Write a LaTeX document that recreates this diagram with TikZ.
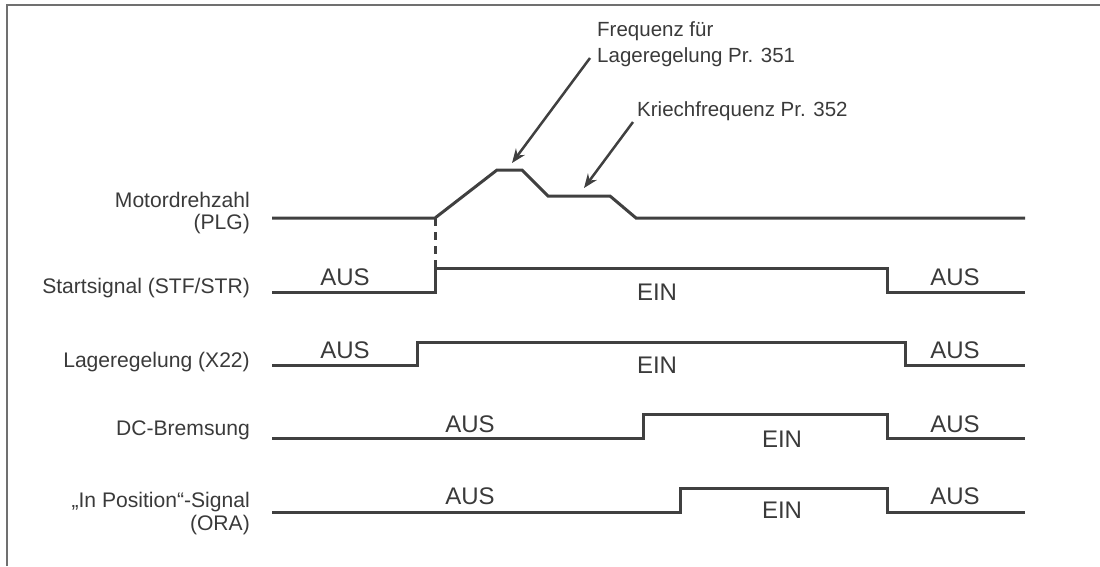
\documentclass[tikz,border=0pt]{standalone}
\usepackage{fontspec}
\setmainfont{Liberation Sans}
\usetikzlibrary{arrows.meta}
\definecolor{sig}{HTML}{404040}
\definecolor{txt}{HTML}{3A3A3A}
\definecolor{frame}{HTML}{707070}
\tikzset{
  sigline/.style={draw=sig,line width=3pt,line join=miter},
  lbl/.style={anchor=base east,text=txt,font=\fontsize{21.1}{23}\selectfont,inner sep=0pt,align=right},
  state/.style={anchor=base,text=txt,font=\fontsize{24}{26}\selectfont,inner sep=0pt},
  note/.style={anchor=base west,text=txt,font=\fontsize{20.5}{26}\selectfont,inner sep=0pt},
  pointer/.style={draw=sig,line width=2.5pt,-{Stealth[length=14pt,width=11pt]}}
}
\begin{document}
\begin{tikzpicture}[x=1pt,y=-1pt]
\useasboundingbox (0,0) rectangle (1100,566);
% frame
\draw[frame,line width=2pt] (7,566) -- (7,5) -- (1100,5);

% labels
\node[lbl] (lm1) at (250,207) {Motordrehzahl};
\node[lbl] (lm2) at (250,229) {(PLG)};
\node[lbl] (ls) at (250,293) {Startsignal (STF/STR)};
\node[lbl] (ll) at (250,367) {Lageregelung (X22)};
\node[lbl] (ld) at (250,435) {DC-Bremsung};
\node[lbl] (lo1) at (250,507) {„In Position“-Signal};
\node[lbl] (lo2) at (250,530) {(ORA)};

% motor speed
\coordinate (m0) at (272,218);
\coordinate (m1) at (435,218);
\coordinate (m2) at (497,170);
\coordinate (m3) at (522,170);
\coordinate (m4) at (548,196);
\coordinate (m5) at (610,196);
\coordinate (m6) at (636,218);
\coordinate (m7) at (1025,218);
\draw[sigline] (m0) -- (m1) -- (m2) -- (m3) -- (m4) -- (m5) -- (m6) -- (m7);

% start signal
\coordinate (s0) at (272,292);
\coordinate (s1) at (435,292);
\coordinate (s2) at (435,268);
\coordinate (s3) at (887,268);
\coordinate (s4) at (887,292);
\coordinate (s5) at (1025,292);
\draw[sigline] (s0) -- (s1) -- (s2) -- (s3) -- (s4) -- (s5);
\draw[draw=sig,line width=3pt,dash pattern=on 8pt off 6pt] (m1) -- (s2);

% Lageregelung
\coordinate (l0) at (272,365);
\coordinate (l1) at (417,365);
\coordinate (l2) at (417,342);
\coordinate (l3) at (905,342);
\coordinate (l4) at (905,365);
\coordinate (l5) at (1025,365);
\draw[sigline] (l0) -- (l1) -- (l2) -- (l3) -- (l4) -- (l5);

% DC brake
\coordinate (d0) at (272,438);
\coordinate (d1) at (643,438);
\coordinate (d2) at (643,414);
\coordinate (d3) at (887,414);
\coordinate (d4) at (887,438);
\coordinate (d5) at (1025,438);
\draw[sigline] (d0) -- (d1) -- (d2) -- (d3) -- (d4) -- (d5);

% In position
\coordinate (o0) at (272,512);
\coordinate (o1) at (680,512);
\coordinate (o2) at (680,488);
\coordinate (o3) at (887,488);
\coordinate (o4) at (887,512);
\coordinate (o5) at (1025,512);
\draw[sigline] (o0) -- (o1) -- (o2) -- (o3) -- (o4) -- (o5);

% state texts
\node[state] (sa1) at (345,285) {AUS};
\node[state] (se) at (657,300) {EIN};
\node[state] (sa2) at (955,285) {AUS};
\node[state] (la1) at (345,358) {AUS};
\node[state] (le) at (657,373) {EIN};
\node[state] (la2) at (955,358) {AUS};
\node[state] (da1) at (470,432) {AUS};
\node[state] (de) at (782,447) {EIN};
\node[state] (da2) at (955,432) {AUS};
\node[state] (oa1) at (470,504) {AUS};
\node[state] (oe) at (782,518) {EIN};
\node[state] (oa2) at (955,504) {AUS};

% annotations
\node[note] (n1a) at (597,36) {Frequenz für};
\node[note] (n1b) at (597,62) {Lageregelung Pr. 351};
\node[note] (n2) at (637,116) {Kriechfrequenz Pr. 352};
\coordinate (a1s) at (590,58);
\coordinate (a1e) at (512,163);
\coordinate (a2s) at (633,122);
\coordinate (a2e) at (584,188);
\draw[pointer] (a1s) -- (a1e);
\draw[pointer] (a2s) -- (a2e);
\end{tikzpicture}
\end{document}
